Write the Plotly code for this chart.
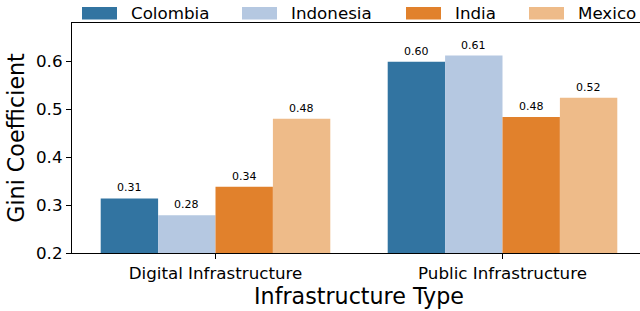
import plotly.graph_objects as go

categories = ["Digital Infrastructure", "Public Infrastructure"]
countries = ["Colombia", "Indonesia", "India", "Mexico"]
colombia = [0.314, 0.599]
indonesia = [0.279, 0.612]
india = [0.338, 0.484]
mexico = [0.480, 0.524]
colors = ["#3274a1", "#b5c8e1", "#e1812c", "#eebb89"]
yticks = [0.2, 0.3, 0.4, 0.5, 0.6]

series = [colombia, indonesia, india, mexico]
FONT = "DejaVu Sans"

# figure is slightly wider than the window; right edge is clipped like the reference
W, H = 646, 311
ML, MR, MT, MB = 72, 0, 23, 58
PW = W - ML - MR
PH = H - MT - MB

fig = go.Figure()
xs = list(range(len(categories)))
for name, vals, col in zip(countries, series, colors):
    fig.add_trace(go.Bar(
        x=xs, y=[v - 0.2 for v in vals], base=0.2, name=name,
        marker=dict(color=col, line=dict(width=0)),
        showlegend=False, hoverinfo="skip",
    ))

# value labels
n = len(countries)
bw = 0.8 / n
for i, vals in enumerate(series):
    off = (i - (n - 1) / 2) * bw
    for j, v in enumerate(vals):
        fig.add_annotation(x=xs[j] + off, y=v, text=f"{v:.2f}", showarrow=False,
                           yanchor="bottom", yshift=2,
                           font=dict(family=FONT, size=11, color="black"))

# manual legend (patch + label) above the plot
leg_patch_x = [82, 242, 406, 529]
for px, name, col in zip(leg_patch_x, countries, colors):
    x0 = (px - ML) / PW
    x1 = (px + 35 - ML) / PW
    y0 = (H - MB - 19.5) / PH
    y1 = (H - MB - 7) / PH
    fig.add_shape(type="rect", xref="paper", yref="paper", x0=x0, x1=x1, y0=y0, y1=y1,
                  fillcolor=col, line=dict(width=0))
    fig.add_annotation(xref="paper", yref="paper", x=(px + 47 - ML) / PW,
                       y=(H - MB - 13.5) / PH, text=name, showarrow=False,
                       xanchor="left", yanchor="middle",
                       font=dict(family=FONT, size=16.7, color="black"))

fig.update_layout(
    width=W, height=H,
    margin=dict(l=ML, r=MR, t=MT, b=MB, pad=0),
    plot_bgcolor="white", paper_bgcolor="white",
    barmode="group", bargap=0.2, bargroupgap=0,
    font=dict(family=FONT, color="black"),
)
fig.update_xaxes(
    range=[-0.5, 1.5],
    tickmode="array", tickvals=xs, ticktext=categories,
    ticks="outside", ticklen=5, tickwidth=1, tickcolor="black",
    showline=True, linecolor="black", linewidth=1.2, mirror=True,
    showgrid=False, zeroline=False,
    tickfont=dict(family=FONT, size=16.7),
    title=dict(text="Infrastructure Type", font=dict(family=FONT, size=22.2), standoff=3),
)
fig.update_yaxes(
    range=[0.2, 0.68],
    tickmode="array", tickvals=yticks, ticktext=[f"{t:.1f}" for t in yticks],
    ticks="outside", ticklen=5, tickwidth=1, tickcolor="black",
    showline=True, linecolor="black", linewidth=1.2,
    showgrid=False, zeroline=False,
    tickfont=dict(family=FONT, size=16.7),
    title=dict(text="Gini Coefficient", font=dict(family=FONT, size=22.2), standoff=5),
)

fig.write_html("out.html", config={"displayModeBar": False},
               post_script="document.body.style.margin='0';document.body.style.overflow='hidden';")
